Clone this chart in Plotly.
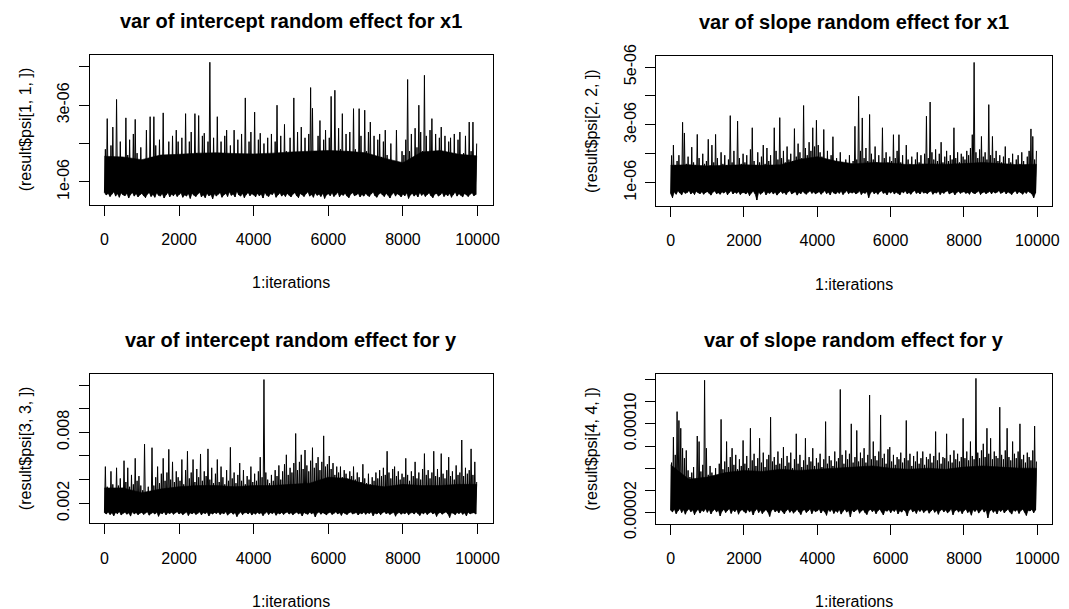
import plotly.graph_objects as go

W, H = 1069, 609
BIN = 50          # iterations summarised by each (low, high) pair
BODY_STEP = 500   # spacing of the readings of the solid band's top edge

# ---------------- panel 1: var of intercept random effect for x1 (units 1e-06)
p1_scale = 1e-06
p1_hi = [
    1.85, 2.65, 1.55, 1.95, 2.43, 1.60, 3.15, 1.50, 2.05, 1.65, 1.55, 2.67, 1.70, 2.10, 1.60, 2.25, 2.63, 1.75, 1.50, 1.90,
    1.45, 1.40, 2.35, 1.50, 2.70, 1.65, 2.70, 1.95, 1.55, 2.10, 1.60, 2.80, 1.70, 1.50, 2.05, 1.65, 2.20, 1.55, 2.35, 2.05,
    1.60, 2.15, 1.70, 2.78, 1.55, 2.05, 2.30, 1.65, 2.78, 1.75, 2.73, 1.60, 2.20, 2.27, 1.55, 2.05, 4.12, 1.70, 2.15, 1.55,
    2.70, 1.60, 2.05, 1.50, 2.20, 2.35, 1.65, 1.95, 1.55, 2.35, 1.70, 2.10, 1.50, 2.25, 1.65, 3.19, 1.60, 2.05, 2.30, 1.65,
    2.82, 1.70, 2.10, 2.27, 1.55, 2.00, 1.50, 2.15, 1.65, 2.25, 1.60, 2.05, 3.00, 1.70, 2.20, 1.55, 2.50, 1.80, 1.65, 2.15,
    1.70, 3.19, 1.60, 2.30, 1.75, 2.43, 1.65, 2.15, 1.55, 2.25, 3.46, 2.92, 1.80, 1.65, 2.20, 2.60, 1.70, 2.10, 2.35, 1.65,
    2.15, 3.23, 1.75, 3.39, 1.70, 2.40, 1.85, 2.78, 1.65, 2.25, 1.80, 2.30, 1.70, 2.91, 1.85, 1.75, 2.91, 2.20, 1.65, 2.87,
    1.80, 2.30, 2.56, 1.70, 2.20, 1.60, 2.10, 2.25, 1.65, 2.05, 2.35, 1.70, 1.55, 2.00, 1.50, 1.40, 2.35, 1.35, 1.50, 1.80,
    1.70, 2.10, 3.67, 1.80, 2.25, 1.65, 2.40, 1.90, 3.00, 2.30, 1.80, 3.78, 2.20, 1.70, 2.35, 2.65, 1.75, 2.25, 1.65, 2.15,
    2.43, 1.70, 2.20, 1.60, 2.05, 2.15, 1.55, 2.25, 1.70, 2.10, 2.30, 1.60, 1.75, 2.20, 1.65, 2.56, 1.80, 2.56, 1.60, 2.00,
]
p1_lo = [
    0.72, 0.66, 0.70, 0.62, 0.68, 0.74, 0.63, 0.69, 0.60, 0.71, 0.66, 0.64, 0.70, 0.58, 0.67, 0.72, 0.63, 0.69, 0.61, 0.66,
    0.70, 0.64, 0.59, 0.68, 0.72, 0.62, 0.67, 0.60, 0.71, 0.65, 0.63, 0.69, 0.58, 0.66, 0.72, 0.61, 0.68, 0.64, 0.70, 0.62,
    0.67, 0.71, 0.60, 0.66, 0.63, 0.69, 0.57, 0.70, 0.65, 0.62, 0.68, 0.73, 0.61, 0.66, 0.59, 0.70, 0.64, 0.67, 0.56, 0.69,
    0.63, 0.68, 0.72, 0.60, 0.66, 0.70, 0.62, 0.74, 0.65, 0.68, 0.61, 0.75, 0.66, 0.63, 0.70, 0.59, 0.67, 0.72, 0.64, 0.69,
    0.66, 0.61, 0.70, 0.64, 0.68, 0.58, 0.72, 0.65, 0.62, 0.69, 0.67, 0.73, 0.60, 0.66, 0.71, 0.63, 0.68, 0.62, 0.70, 0.65,
    0.61, 0.68, 0.72, 0.64, 0.59, 0.70, 0.66, 0.62, 0.69, 0.74, 0.63, 0.67, 0.60, 0.71, 0.65, 0.68, 0.62, 0.70, 0.57, 0.66,
    0.69, 0.64, 0.71, 0.62, 0.67, 0.73, 0.61, 0.68, 0.65, 0.70, 0.63, 0.59, 0.68, 0.72, 0.64, 0.66, 0.70, 0.61, 0.67, 0.63,
    0.70, 0.65, 0.62, 0.69, 0.73, 0.64, 0.60, 0.68, 0.71, 0.66, 0.62, 0.70, 0.65, 0.58, 0.67, 0.72, 0.63, 0.69, 0.66, 0.61,
    0.68, 0.64, 0.71, 0.57, 0.66, 0.70, 0.63, 0.68, 0.61, 0.72, 0.65, 0.69, 0.62, 0.67, 0.71, 0.64, 0.59, 0.68, 0.70, 0.63,
    0.66, 0.72, 0.62, 0.68, 0.64, 0.70, 0.60, 0.67, 0.73, 0.63, 0.69, 0.65, 0.61, 0.70, 0.66, 0.62, 0.68, 0.71, 0.64, 0.67,
]
p1_body = [1.67, 1.65, 1.58, 1.70, 1.72, 1.75, 1.76, 1.74, 1.73, 1.75, 1.78,
           1.80, 1.82, 1.80, 1.76, 1.62, 1.50, 1.78, 1.82, 1.72, 1.68]

# ---------------- panel 2: var of slope random effect for x1 (units 1e-06)
p2_scale = 1e-06
p2_hi = [
    1.94, 2.30, 1.60, 1.75, 1.95, 1.55, 3.09, 2.72, 1.65, 1.90, 1.55, 2.23, 1.70, 1.60, 2.67, 1.85, 1.55, 2.00, 1.65, 1.75,
    2.50, 1.60, 2.30, 1.70, 2.67, 1.85, 1.55, 2.05, 1.65, 1.95, 1.60, 1.80, 3.32, 1.70, 2.10, 1.60, 3.13, 1.85, 1.65, 2.00,
    1.70, 1.95, 1.60, 2.15, 2.90, 1.75, 1.60, 2.05, 1.70, 1.90, 2.30, 1.65, 2.20, 1.75, 1.95, 1.60, 2.90, 2.10, 1.80, 3.25,
    1.85, 2.10, 1.70, 2.25, 1.80, 2.00, 1.75, 2.87, 1.90, 2.35, 2.05, 1.85, 3.67, 2.20, 1.95, 2.40, 2.10, 2.90, 2.25, 3.16,
    2.30, 2.05, 1.90, 2.84, 1.75, 2.10, 1.65, 1.95, 2.59, 1.70, 1.85, 1.60, 2.05, 1.70, 1.55, 1.80, 1.65, 1.95, 1.60, 1.75,
    2.95, 1.80, 3.99, 2.10, 3.24, 1.85, 2.20, 1.75, 3.36, 2.00, 1.80, 2.25, 1.70, 1.95, 1.65, 2.90, 1.85, 2.05, 1.70, 1.90,
    1.75, 2.66, 1.85, 2.10, 2.66, 1.70, 1.95, 1.60, 2.30, 1.80, 1.65, 1.90, 1.60, 1.80, 2.05, 1.70, 1.95, 1.65, 2.00, 3.30,
    1.85, 3.79, 2.05, 1.80, 2.15, 1.75, 2.00, 2.40, 1.70, 1.90, 2.10, 1.75, 1.95, 1.80, 2.90, 1.85, 2.05, 1.70, 2.00, 1.90,
    1.80, 2.10, 1.95, 2.20, 2.66, 5.16, 2.05, 1.85, 2.15, 2.60, 1.90, 2.05, 1.80, 3.70, 1.95, 2.60, 1.85, 2.10, 1.75, 1.95,
    1.70, 1.90, 2.25, 1.65, 1.85, 1.70, 2.00, 1.60, 1.80, 1.95, 1.65, 2.05, 1.75, 1.60, 1.90, 2.10, 2.86, 2.60, 1.80, 2.10,
]
p2_lo = [
    0.62, 0.48, 0.68, 0.60, 0.71, 0.64, 0.58, 0.69, 0.63, 0.66, 0.72, 0.61, 0.67, 0.59, 0.70, 0.65, 0.62, 0.68, 0.60, 0.66,
    0.69, 0.63, 0.57, 0.67, 0.71, 0.62, 0.65, 0.60, 0.68, 0.64, 0.70, 0.58, 0.66, 0.72, 0.61, 0.67, 0.63, 0.69, 0.59, 0.65,
    0.66, 0.61, 0.68, 0.55, 0.64, 0.70, 0.62, 0.40, 0.67, 0.60, 0.65, 0.71, 0.58, 0.66, 0.63, 0.69, 0.61, 0.67, 0.57, 0.64,
    0.70, 0.63, 0.66, 0.59, 0.68, 0.72, 0.61, 0.65, 0.69, 0.57, 0.66, 0.62, 0.70, 0.64, 0.60, 0.67, 0.71, 0.63, 0.68, 0.61,
    0.65, 0.69, 0.60, 0.66, 0.72, 0.62, 0.67, 0.58, 0.70, 0.64, 0.61, 0.68, 0.63, 0.70, 0.59, 0.66, 0.72, 0.62, 0.67, 0.64,
    0.68, 0.61, 0.65, 0.71, 0.59, 0.66, 0.63, 0.69, 0.48, 0.64, 0.70, 0.62, 0.67, 0.60, 0.68, 0.72, 0.63, 0.66, 0.58, 0.69,
    0.64, 0.70, 0.61, 0.67, 0.63, 0.58, 0.69, 0.65, 0.71, 0.62, 0.66, 0.60, 0.68, 0.73, 0.63, 0.67, 0.61, 0.70, 0.64, 0.66,
    0.62, 0.68, 0.71, 0.60, 0.66, 0.64, 0.70, 0.59, 0.67, 0.63, 0.69, 0.72, 0.61, 0.65, 0.68, 0.58, 0.66, 0.70, 0.63, 0.67,
    0.69, 0.63, 0.66, 0.60, 0.70, 0.64, 0.62, 0.67, 0.71, 0.59, 0.65, 0.68, 0.62, 0.66, 0.70, 0.61, 0.69, 0.64, 0.67, 0.72,
    0.63, 0.66, 0.70, 0.61, 0.68, 0.64, 0.59, 0.67, 0.71, 0.62, 0.69, 0.65, 0.60, 0.68, 0.63, 0.70, 0.66, 0.61, 0.48, 0.64,
]
p2_body = [1.60, 1.62, 1.58, 1.60, 1.62, 1.60, 1.62, 1.80, 1.90, 1.75, 1.65,
           1.70, 1.68, 1.62, 1.65, 1.64, 1.66, 1.70, 1.66, 1.62, 1.64]

# ---------------- panel 3: var of intercept random effect for y (units 1e-03)
p3_scale = 1e-03
p3_hi = [
    5.10, 3.40, 3.00, 4.70, 3.60, 3.20, 5.00, 3.50, 4.10, 3.30, 5.60, 3.80, 5.00, 3.40, 4.40, 3.60, 5.80, 3.90, 4.30, 3.50,
    3.10, 7.00, 2.80, 3.40, 2.60, 6.70, 3.50, 4.20, 5.10, 3.70, 4.50, 5.80, 3.90, 4.60, 6.56, 4.00, 5.50, 3.80, 4.70, 4.20,
    3.90, 5.70, 3.60, 4.80, 6.40, 4.10, 4.60, 5.70, 3.80, 4.90, 4.20, 6.17, 3.90, 4.70, 4.30, 6.60, 4.00, 5.00, 3.70, 4.50,
    5.70, 3.80, 5.10, 4.20, 3.60, 4.80, 3.90, 6.73, 4.10, 4.60, 3.70, 4.40, 5.40, 3.90, 4.80, 3.60, 4.30, 4.00, 5.10, 3.80,
    4.50, 3.90, 4.70, 5.90, 4.20, 12.46, 4.60, 4.00, 3.70, 4.40, 3.90, 4.80, 4.30, 5.20, 4.00, 4.70, 5.30, 6.10, 4.40, 5.00,
    4.60, 5.40, 7.90, 4.80, 5.50, 6.10, 4.90, 6.50, 5.20, 4.70, 5.60, 6.70, 5.00, 5.40, 5.90, 4.80, 5.50, 7.70, 5.10, 5.30,
    6.00, 4.90, 5.40, 4.40, 5.10, 4.60, 5.10, 4.20, 4.80, 4.50, 3.90, 4.70, 4.30, 5.10, 4.00, 4.60, 4.20, 3.80, 5.30, 4.10,
    3.70, 4.50, 3.60, 4.20, 3.90, 4.60, 4.10, 4.80, 4.30, 5.00, 4.40, 6.40, 4.60, 4.10, 4.90, 5.10, 4.30, 4.70, 4.00, 4.50,
    4.20, 5.80, 4.40, 3.90, 4.70, 4.30, 5.50, 4.10, 4.60, 4.00, 4.90, 6.20, 4.40, 4.80, 4.10, 4.60, 6.40, 4.30, 4.90, 4.20,
    6.20, 4.50, 4.10, 4.80, 5.90, 4.30, 4.70, 4.00, 5.20, 4.40, 4.60, 7.35, 4.30, 5.00, 4.50, 4.80, 6.60, 4.40, 5.50, 3.80,
]
p3_lo = [
    1.20, 1.10, 1.25, 1.05, 1.18, 0.95, 1.22, 1.12, 1.28, 1.02, 1.15, 1.24, 1.08, 1.19, 0.92, 1.26, 1.11, 1.21, 1.04, 1.16,
    1.23, 1.06, 1.17, 1.27, 1.00, 1.14, 1.22, 1.09, 1.25, 0.90, 1.18, 1.12, 1.26, 1.03, 1.20, 1.13, 1.24, 1.07, 1.19, 1.28,
    1.10, 1.21, 1.04, 1.16, 1.26, 0.97, 1.19, 1.11, 1.23, 1.06, 1.15, 1.27, 1.02, 1.20, 1.13, 1.24, 0.94, 1.17, 1.09, 1.22,
    1.14, 1.25, 1.05, 1.19, 1.11, 1.28, 1.00, 1.16, 1.23, 1.08, 1.20, 0.88, 1.13, 1.26, 1.04, 1.18, 1.22, 1.10, 1.25, 1.02,
    1.17, 1.08, 1.24, 1.12, 1.20, 0.96, 1.15, 1.27, 1.05, 1.21, 1.13, 1.25, 0.99, 1.18, 1.10, 1.23, 1.06, 1.19, 1.26, 1.09,
    1.21, 1.03, 1.16, 1.25, 1.11, 1.19, 0.93, 1.22, 1.14, 1.07, 1.24, 1.12, 1.20, 0.85, 1.17, 1.26, 1.08, 1.21, 1.13, 1.02,
    1.18, 1.24, 1.06, 1.15, 1.27, 1.10, 1.20, 0.98, 1.23, 1.13, 1.05, 1.19, 1.26, 1.09, 1.16, 1.22, 1.01, 1.18, 1.11, 1.25,
    1.07, 1.20, 1.14, 1.26, 0.95, 1.17, 1.10, 1.23, 1.04, 1.19, 1.28, 1.12, 1.21, 1.06, 1.16, 1.24, 0.91, 1.15, 1.22, 1.08,
    1.19, 1.12, 1.25, 1.03, 1.17, 1.22, 1.09, 1.26, 1.14, 0.97, 1.20, 1.11, 1.24, 1.05, 1.18, 1.27, 1.10, 1.21, 0.89, 1.16,
    1.23, 1.08, 1.18, 1.26, 1.12, 0.80, 1.20, 1.15, 1.04, 1.22, 1.13, 1.25, 1.07, 1.19, 0.94, 1.24, 1.11, 1.17, 1.21, 1.09,
]
p3_body = [3.3, 3.3, 2.9, 3.2, 3.4, 3.5, 3.5, 3.4, 3.5, 3.5, 3.6,
           3.7, 4.2, 4.1, 3.6, 3.4, 3.6, 3.5, 3.5, 3.6, 3.6]

# ---------------- panel 4: var of slope random effect for y (units 1e-05)
p4_scale = 1e-05
p4_hi = [
    6.50, 8.80, 7.20, 11.10, 10.30, 9.60, 7.80, 6.90, 7.60, 5.80, 5.20, 5.60, 6.10, 5.00, 8.90, 8.40, 5.70, 6.30, 13.93, 7.80,
    5.40, 6.20, 5.60, 5.10, 6.00, 5.30, 6.40, 10.40, 5.90, 6.60, 8.40, 6.10, 7.00, 7.80, 6.30, 7.20, 5.90, 6.80, 6.20, 8.50,
    6.40, 7.10, 6.00, 9.60, 6.70, 7.30, 6.20, 6.90, 8.70, 6.50, 7.40, 6.10, 6.80, 7.20, 10.60, 6.60, 7.00, 6.30, 7.50, 6.40,
    6.90, 7.90, 6.20, 7.10, 6.50, 7.40, 6.00, 6.80, 9.10, 6.40, 7.20, 6.10, 6.70, 8.70, 6.30, 7.00, 6.60, 7.80, 6.20, 6.90,
    6.50, 7.30, 6.10, 6.80, 10.20, 6.40, 7.10, 6.70, 6.20, 7.50, 6.60, 6.90, 13.10, 7.20, 6.40, 7.60, 6.80, 7.30, 10.00, 6.50,
    7.00, 9.40, 6.60, 7.40, 6.90, 7.80, 6.50, 7.20, 12.60, 6.80, 8.40, 7.10, 6.70, 7.50, 10.80, 6.90, 7.30, 6.40, 7.70, 7.90,
    6.60, 7.20, 6.30, 7.00, 6.80, 7.40, 6.50, 6.90, 10.30, 6.70, 7.30, 6.20, 7.10, 6.60, 7.50, 6.40, 6.90, 7.50, 6.30, 7.00,
    6.80, 7.30, 6.50, 7.10, 9.30, 6.70, 7.40, 6.40, 7.00, 6.90, 9.10, 6.60, 7.20, 6.50, 7.60, 6.80, 7.30, 6.60, 7.00, 10.50,
    6.90, 7.50, 6.70, 8.40, 7.10, 6.80, 14.10, 7.40, 6.90, 7.60, 8.20, 7.00, 9.60, 7.30, 8.70, 6.80, 7.50, 7.10, 6.90, 11.50,
    7.20, 6.80, 7.60, 9.60, 7.00, 6.70, 8.40, 7.30, 6.90, 7.50, 10.00, 6.80, 7.20, 6.50, 7.40, 7.00, 6.70, 7.60, 9.80, 6.60,
]
p4_lo = [
    2.20, 2.05, 2.30, 1.90, 2.15, 2.35, 2.00, 2.25, 1.85, 2.18, 2.32, 2.08, 2.22, 1.80, 2.12, 2.28, 1.95, 2.20, 2.10, 2.33,
    2.02, 2.25, 1.88, 2.15, 2.30, 2.05, 2.20, 1.70, 2.12, 2.27, 2.00, 2.18, 2.35, 1.92, 2.22, 2.08, 2.30, 1.85, 2.15, 2.25,
    2.10, 1.95, 2.28, 2.05, 2.20, 1.78, 2.15, 2.32, 2.00, 2.22, 1.90, 2.12, 2.26, 2.04, 1.65, 2.18, 2.30, 2.06, 2.20, 1.98,
    2.24, 2.08, 1.88, 2.16, 2.30, 2.02, 2.20, 1.94, 2.12, 2.28, 2.05, 1.82, 2.18, 2.26, 2.00, 2.14, 2.32, 1.90, 2.22, 2.08,
    2.15, 2.30, 1.96, 2.20, 2.06, 1.75, 2.24, 2.10, 2.28, 1.92, 2.16, 2.02, 2.25, 1.86, 2.12, 2.30, 2.04, 2.18, 1.60, 2.22,
    2.05, 2.20, 2.32, 1.94, 2.14, 2.26, 2.00, 1.82, 2.18, 2.28, 2.08, 2.22, 1.90, 2.16, 2.30, 2.04, 1.78, 2.20, 2.12, 2.26,
    1.98, 2.22, 2.10, 2.30, 1.88, 2.16, 2.04, 2.26, 2.12, 1.70, 2.20, 2.32, 2.06, 2.18, 1.92, 2.24, 2.10, 2.28, 2.00, 2.15,
    2.26, 1.94, 2.14, 2.30, 2.02, 2.20, 1.84, 2.18, 2.28, 2.06, 2.22, 1.96, 2.12, 2.32, 1.80, 2.16, 2.25, 2.04, 2.20, 1.90,
    2.18, 2.30, 2.00, 2.14, 1.76, 2.24, 2.10, 2.28, 1.95, 2.16, 2.32, 2.04, 2.20, 1.52, 2.12, 2.26, 2.02, 2.18, 1.88, 2.24,
    2.10, 2.28, 1.96, 2.16, 2.30, 2.04, 1.86, 2.22, 2.12, 2.26, 1.92, 2.18, 2.30, 2.02, 1.74, 2.20, 2.14, 2.28, 1.98, 2.22,
]
p4_body = [6.3, 5.0, 5.2, 5.6, 5.8, 5.7, 5.9, 5.8, 5.9, 6.0, 6.1,
           6.2, 6.0, 5.9, 6.0, 5.9, 6.1, 6.2, 6.1, 6.0, 6.0]

titles = ["var of intercept random effect for x1", "var of slope random effect for x1",
          "var of intercept random effect for y", "var of slope random effect for y"]
ylabels = ["(result$psi[1, 1, ])", "(result$psi[2, 2, ])",
           "(result$psi[3, 3, ])", "(result$psi[4, 4, ])"]
xlabel = "1:iterations"
x_ticks = [0, 2000, 4000, 6000, 8000, 10000]
y_ticks = [
    ([1e-06, 2e-06, 3e-06, 4e-06], ["1e-06", "", "3e-06", ""]),
    ([1e-06, 2e-06, 3e-06, 4e-06, 5e-06], ["1e-06", "", "3e-06", "", "5e-06"]),
    ([0.002, 0.004, 0.006, 0.008, 0.010, 0.012], ["0.002", "", "", "0.008", "", ""]),
    ([2e-05, 4e-05, 6e-05, 8e-05, 1e-04, 1.2e-04, 1.4e-04], ["0.00002", "", "", "", "0.00010", "", ""]),
]
y_ranges = [(0.411e-06, 4.304e-06), (0.193e-06, 5.39e-06), (0.000309, 0.01293), (0.983e-05, 14.54e-05)]
x_range = (-398.96, 10399.96)

series = [(p1_lo, p1_hi, p1_body, p1_scale), (p2_lo, p2_hi, p2_body, p2_scale),
          (p3_lo, p3_hi, p3_body, p3_scale), (p4_lo, p4_hi, p4_body, p4_scale)]

# plot boxes in pixels: (left, top, right, bottom)
boxes = [(89.5, 55.2, 492.5, 204.5), (656.0, 55.8, 1052.0, 206.0),
         (89.5, 374.0, 492.5, 523.3), (656.0, 373.5, 1052.0, 523.8)]

FONT = "Liberation Sans, Arial, sans-serif"

fig = go.Figure()
annotations = []
for k in range(4):
    lo, hi, body, sc = series[k]
    ax = "" if k == 0 else str(k + 1)
    # solid body of the trace: from the low readings up to the band's top edge
    bx = [1 + BIN * i for i in range(len(lo))]
    by = [v * sc for v in lo]
    tx = [min(BODY_STEP * j, bx[-1] + BIN // 2) for j in range(len(body))]
    ty = [v * sc for v in body]
    tx[0] = 1
    fig.add_trace(go.Scatter(x=bx + tx[::-1], y=by + ty[::-1], mode="lines",
                             fill="toself", fillcolor="black",
                             xaxis="x" + ax, yaxis="y" + ax,
                             line=dict(color="black", width=0.6, simplify=False),
                             hoverinfo="skip", showlegend=False))
    xs, ys = [], []
    for i, (l, h) in enumerate(zip(lo, hi)):
        xs += [1 + BIN * i, 1 + BIN * i + BIN // 2]
        ys += [l * sc, h * sc]
    fig.add_trace(go.Scatter(x=xs, y=ys, mode="lines", xaxis="x" + ax, yaxis="y" + ax,
                             line=dict(color="black", width=1, simplify=False),
                             hoverinfo="skip", showlegend=False))
    L, T, R, B = boxes[k]
    common = dict(showline=True, mirror=True, linecolor="black", linewidth=1,
                  ticks="outside", ticklen=10, tickcolor="black", tickwidth=1,
                  showgrid=False, zeroline=False, automargin=False,
                  tickfont=dict(family=FONT, size=16, color="black"))
    fig.layout["xaxis" + ax] = dict(domain=[L / W, R / W], range=list(x_range),
                                    anchor="y" + ax, tickvals=x_ticks,
                                    ticktext=[str(v) for v in x_ticks],
                                    ticklabelstandoff=10, **common)
    fig.layout["yaxis" + ax] = dict(domain=[1 - B / H, 1 - T / H], range=list(y_ranges[k]),
                                    anchor="x" + ax, tickvals=y_ticks[k][0],
                                    ticktext=y_ticks[k][1], tickangle=-90,
                                    ticklabelstandoff=3, **common)
    cx = (L + R) / 2
    cy = (T + B) / 2
    annotations.append(dict(text="<b>" + titles[k] + "</b>", x=cx / W, y=1 - (T - 34) / H,
                            xref="paper", yref="paper", showarrow=False,
                            xanchor="center", yanchor="middle",
                            font=dict(family=FONT, size=20, color="black")))
    annotations.append(dict(text=xlabel, x=cx / W, y=1 - (B + 78) / H,
                            xref="paper", yref="paper", showarrow=False,
                            xanchor="center", yanchor="middle",
                            font=dict(family=FONT, size=16, color="black")))
    annotations.append(dict(text=ylabels[k], x=(L - 64) / W, y=1 - cy / H,
                            xref="paper", yref="paper", showarrow=False, textangle=-90,
                            xanchor="center", yanchor="middle",
                            font=dict(family=FONT, size=16, color="black")))

fig.update_layout(template="none", width=W, height=H, margin=dict(l=0, r=0, t=0, b=0),
                  paper_bgcolor="white", plot_bgcolor="white",
                  annotations=annotations, showlegend=False)

fig.write_html("out.html")
